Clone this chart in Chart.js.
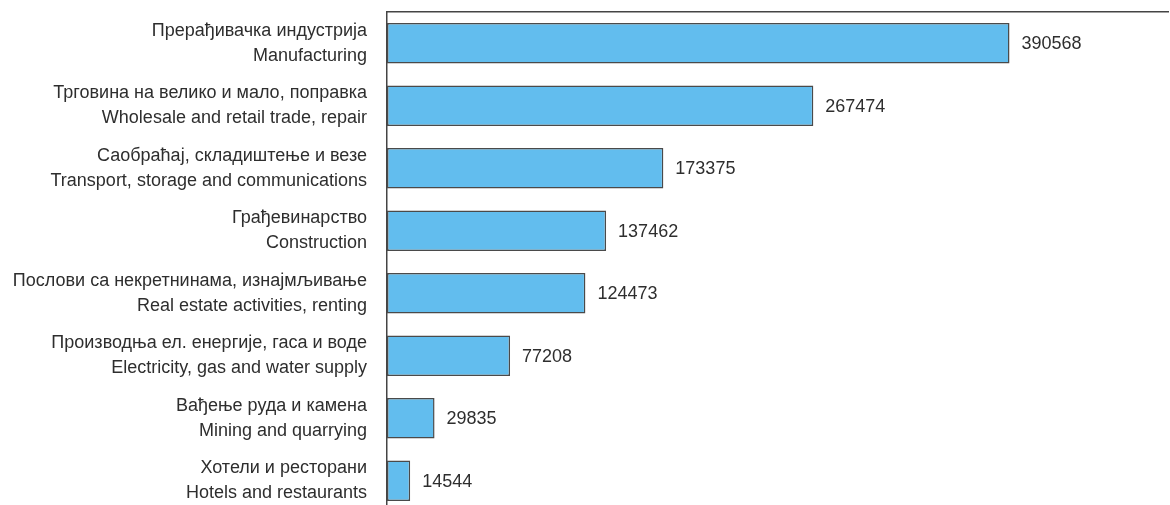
<!DOCTYPE html>
<html>
<head>
<meta charset="utf-8">
<script src="https://cdn.jsdelivr.net/npm/chart.js@4/dist/chart.umd.min.js"></script>
<style>
    html, body { margin: 0; padding: 0; background: #fff; overflow: hidden; }
    #wrap { width: 1170px; height: 515px; position: relative; }
</style>
</head>
<body>
<div id="wrap"><canvas id="chart"></canvas></div>
<script>
// Sectors, Serbian / English
const labelsSr = [
    'Прерађивачка индустрија',
    'Трговина на велико и мало, поправка',
    'Саобраћај, складиштење и везе',
    'Грађевинарство',
    'Послови са некретнинама, изнајмљивање',
    'Производња ел. енергије, гаса и воде',
    'Вађење руда и камена',
    'Хотели и ресторани'
];
const labelsEn = [
    'Manufacturing',
    'Wholesale and retail trade, repair',
    'Transport, storage and communications',
    'Construction',
    'Real estate activities, renting',
    'Electricity, gas and water supply',
    'Mining and quarrying',
    'Hotels and restaurants'
];
const values = [390568, 267474, 173375, 137462, 124473, 77208, 29835, 14544];

const textColor = '#2e2e2e';
const fontFamily = '"Liberation Sans", Arial, sans-serif';

// Draw the value next to the end of each bar
const valueLabels = {
    id: 'valueLabels',
    afterDatasetsDraw(chart) {
        const ctx = chart.ctx;
        const meta = chart.getDatasetMeta(0);
        ctx.save();
        ctx.font = '18px ' + fontFamily;
        ctx.fillStyle = textColor;
        ctx.textAlign = 'left';
        ctx.textBaseline = 'middle';
        meta.data.forEach((bar, i) => {
            ctx.fillText(String(values[i]), bar.x + 12, bar.y + 1);
        });
        ctx.restore();
    }
};

new Chart(document.getElementById('chart'), {
    type: 'bar',
    data: {
        labels: labelsSr.map((s, i) => [s, labelsEn[i]]),
        datasets: [{
            data: values,
            backgroundColor: '#62bdee',
            borderColor: '#4a4a4a',
            borderWidth: 1.5,
            borderSkipped: false,
            barPercentage: 0.65,
            categoryPercentage: 1
        }]
    },
    options: {
        indexAxis: 'y',
        responsive: true,
        maintainAspectRatio: false,
        animation: false,
        layout: { padding: { top: 12, right: 2, bottom: 3, left: 0 } },
        plugins: {
            legend: { display: false },
            tooltip: { enabled: false }
        },
        scales: {
            x: {
                position: 'top',
                min: 0,
                max: 490000,
                ticks: { display: false },
                grid: { display: false, drawTicks: false },
                border: { display: true, color: '#444444', width: 1.5 },
                afterFit: s => { s.height = 0; s.paddingLeft = 0; s.paddingRight = 0; }
            },
            y: {
                ticks: {
                    color: textColor,
                    padding: 20,
                    font: { family: fontFamily, size: 18, lineHeight: 1.38 }
                },
                grid: { display: false, drawTicks: false },
                border: { display: true, color: '#444444', width: 1.5 },
                afterFit: s => { s.width = 387; s.paddingTop = 0; s.paddingBottom = 0; }
            }
        }
    },
    plugins: [valueLabels]
});
</script>
</body>
</html>
